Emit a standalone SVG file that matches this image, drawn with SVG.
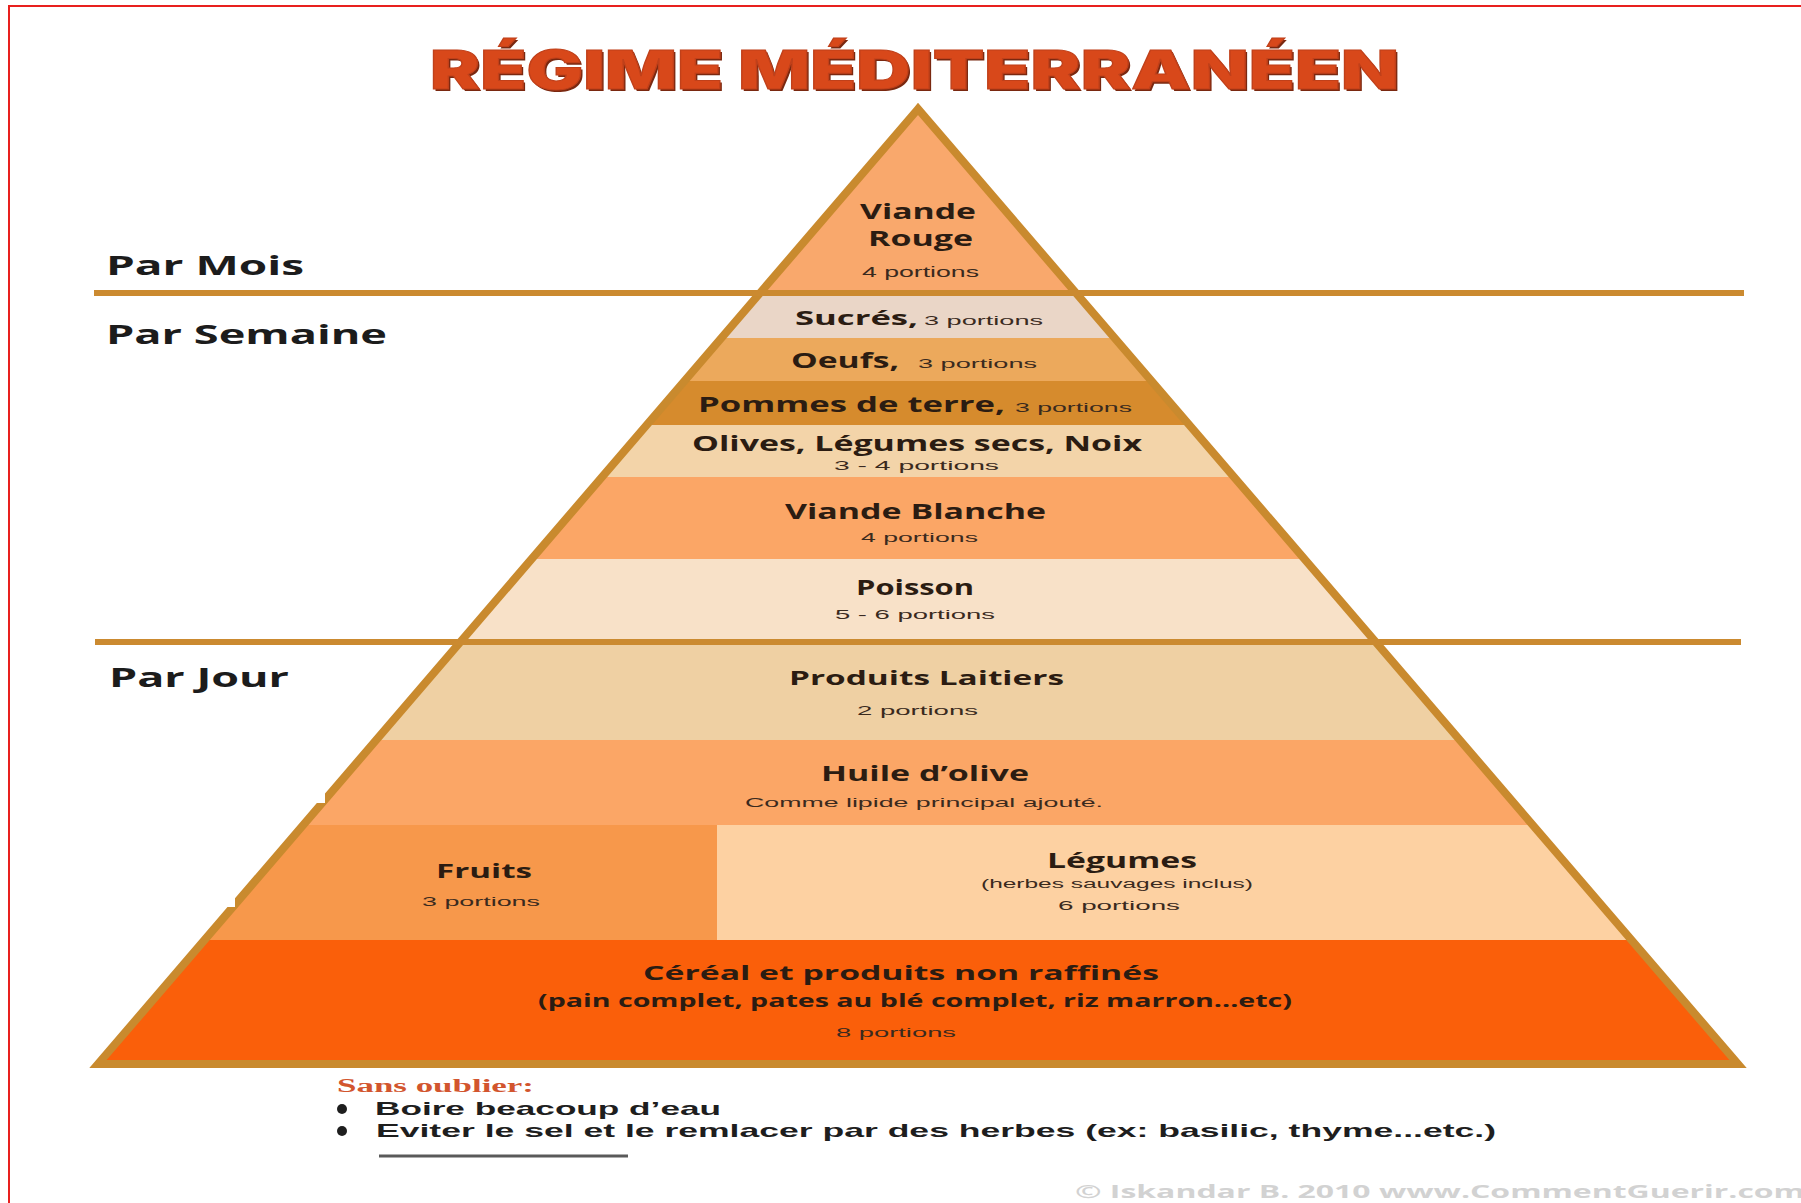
<svg xmlns="http://www.w3.org/2000/svg" width="1801" height="1203" viewBox="0 0 1801 1203">
<defs>
<clipPath id="tri"><polygon points="918,109 98,1064 1738,1064"/></clipPath>
<style>
.lbl{font-family:'Open Sans','Liberation Sans',sans-serif;font-weight:700;fill:#2b1c12}
.por{font-family:'Liberation Sans',Arial,sans-serif;fill:#3a2a1e}
.side{font-family:'Open Sans','Liberation Sans',sans-serif;font-weight:700;fill:#1c1c1c;font-size:27px}
.sep{stroke:#cb8a30;stroke-width:6;fill:none}
.note{font-family:'Liberation Sans',Arial,sans-serif;font-weight:700;fill:#1e1e1e;font-size:19px}
</style>
</defs>
<rect width="1801" height="1203" fill="#ffffff"/>
<path d="M9,1203 V6 H1801" fill="none" stroke="#e8201e" stroke-width="2"/>

<g id="title">
<text x="432" y="91" font-family="Inter,'Open Sans','Liberation Sans',sans-serif" font-weight="900" font-size="53" fill="#7a2810" textLength="969" lengthAdjust="spacingAndGlyphs">RÉGIME MÉDITERRANÉEN</text>
<text x="430" y="89" font-family="Inter,'Open Sans','Liberation Sans',sans-serif" font-weight="900" font-size="53" fill="#d8481a" stroke="#c0401a" stroke-width="1" textLength="969" lengthAdjust="spacingAndGlyphs">RÉGIME MÉDITERRANÉEN</text>
</g>

<g id="bands" clip-path="url(#tri)">
<rect id="band-viande-rouge" x="0" y="100" width="1801" height="196" fill="#f9a86c"/>
<rect id="band-sucres" x="0" y="296" width="1801" height="42" fill="#ead6c7"/>
<rect id="band-oeufs" x="0" y="338" width="1801" height="43" fill="#eca95c"/>
<rect id="band-pommes" x="0" y="381" width="1801" height="44" fill="#d68b2d"/>
<rect id="band-olives" x="0" y="425" width="1801" height="52" fill="#f3d4a9"/>
<rect id="band-viande-blanche" x="0" y="477" width="1801" height="82" fill="#fba666"/>
<rect id="band-poisson" x="0" y="559" width="1801" height="83" fill="#f8e1c8"/>
<rect id="band-laitiers" x="0" y="642" width="1801" height="98" fill="#efd0a3"/>
<rect id="band-huile" x="0" y="740" width="1801" height="85" fill="#fba666"/>
<rect id="band-fruits" x="0" y="825" width="717" height="115" fill="#f7984b"/>
<rect id="band-legumes" x="717" y="825" width="1084" height="115" fill="#fdd1a2"/>
<rect id="band-cereal" x="0" y="940" width="1801" height="130" fill="#fa5f0a"/>
</g>

<g id="outline">
<polygon points="918,109 98,1064 1738,1064" fill="none" stroke="#c98a2e" stroke-width="8" stroke-linejoin="miter"/>
</g>

<g id="connectors">
<line class="sep" x1="94" y1="293" x2="1744" y2="293"/>
<line class="sep" x1="95" y1="642" x2="1741" y2="642" stroke-width="5"/>
</g>

<g id="artifacts">
<rect x="230" y="700" width="95" height="103" fill="#ffffff"/>
<rect x="150" y="803" width="85" height="104" fill="#ffffff"/>
</g>

<g id="side-labels">
<text class="side" x="106" y="275" textLength="198" lengthAdjust="spacingAndGlyphs">Par Mois</text>
<text class="side" x="106" y="344" textLength="281" lengthAdjust="spacingAndGlyphs">Par Semaine</text>
<text class="side" x="109" y="687" textLength="180" lengthAdjust="spacingAndGlyphs">Par Jour</text>
</g>

<g id="node-viande-rouge">
<text class="lbl" x="860" y="219" font-size="21" textLength="116" lengthAdjust="spacingAndGlyphs">Viande</text>
<text class="lbl" x="868" y="246" font-size="21" textLength="105" lengthAdjust="spacingAndGlyphs">Rouge</text>
<text class="por" x="862" y="277" font-size="14" textLength="117" lengthAdjust="spacingAndGlyphs">4 portions</text>
</g>
<g id="node-sucres">
<text class="lbl" x="795" y="325" font-size="20" textLength="123" lengthAdjust="spacingAndGlyphs">Sucrés,</text>
<text class="por" x="924" y="325" font-size="13" textLength="119" lengthAdjust="spacingAndGlyphs">3 portions</text>
</g>
<g id="node-oeufs">
<text class="lbl" x="791" y="368" font-size="21" textLength="108" lengthAdjust="spacingAndGlyphs">Oeufs,</text>
<text class="por" x="918" y="368" font-size="13" textLength="119" lengthAdjust="spacingAndGlyphs">3 portions</text>
</g>
<g id="node-pommes">
<text class="lbl" x="698" y="412" font-size="21" textLength="307" lengthAdjust="spacingAndGlyphs">Pommes de terre,</text>
<text class="por" x="1015" y="412" font-size="13" textLength="117" lengthAdjust="spacingAndGlyphs">3 portions</text>
</g>
<g id="node-olives">
<text class="lbl" x="692" y="451" font-size="22" textLength="450" lengthAdjust="spacingAndGlyphs">Olives, Légumes secs, Noix</text>
<text class="por" x="834" y="470" font-size="13" textLength="165" lengthAdjust="spacingAndGlyphs">3 - 4 portions</text>
</g>
<g id="node-viande-blanche">
<text class="lbl" x="785" y="519" font-size="22" textLength="261" lengthAdjust="spacingAndGlyphs">Viande Blanche</text>
<text class="por" x="861" y="542" font-size="13" textLength="117" lengthAdjust="spacingAndGlyphs">4 portions</text>
</g>
<g id="node-poisson">
<text class="lbl" x="856" y="595" font-size="21" textLength="118" lengthAdjust="spacingAndGlyphs">Poisson</text>
<text class="por" x="835" y="619" font-size="13" textLength="160" lengthAdjust="spacingAndGlyphs">5 - 6 portions</text>
</g>
<g id="node-laitiers">
<text class="lbl" x="789" y="685" font-size="20" textLength="275" lengthAdjust="spacingAndGlyphs">Produits Laitiers</text>
<text class="por" x="857" y="715" font-size="13" textLength="121" lengthAdjust="spacingAndGlyphs">2 portions</text>
</g>
<g id="node-huile">
<text class="lbl" x="821" y="781" font-size="22" textLength="208" lengthAdjust="spacingAndGlyphs">Huile d’olive</text>
<text class="por" x="745" y="807" font-size="13" textLength="358" lengthAdjust="spacingAndGlyphs">Comme lipide principal ajouté.</text>
</g>
<g id="node-fruits">
<text class="lbl" x="436" y="878" font-size="20" textLength="96" lengthAdjust="spacingAndGlyphs">Fruits</text>
<text class="por" x="422" y="906" font-size="13" textLength="118" lengthAdjust="spacingAndGlyphs">3 portions</text>
</g>
<g id="node-legumes">
<text class="lbl" x="1047" y="868" font-size="21" textLength="150" lengthAdjust="spacingAndGlyphs">Légumes</text>
<text class="por" x="981" y="888" font-size="12" textLength="272" lengthAdjust="spacingAndGlyphs">(herbes sauvages inclus)</text>
<text class="por" x="1058" y="910" font-size="13" textLength="122" lengthAdjust="spacingAndGlyphs">6 portions</text>
</g>
<g id="node-cereal">
<text class="lbl" x="643" y="980" font-size="20" textLength="516" lengthAdjust="spacingAndGlyphs">Céréal et produits non raffinés</text>
<text class="lbl" x="538" y="1007" font-size="17" textLength="754" lengthAdjust="spacingAndGlyphs">(pain complet, pates au blé complet, riz marron...etc)</text>
<text class="por" x="836" y="1037" font-size="13" textLength="120" lengthAdjust="spacingAndGlyphs">8 portions</text>
</g>

<g id="notes">
<text x="337" y="1092" font-family="'Liberation Serif','Times New Roman',serif" font-weight="700" font-size="18" fill="#d2552e" textLength="197" lengthAdjust="spacingAndGlyphs">Sans oublier:</text>
<circle cx="342" cy="1109" r="5" fill="#1e1e1e"/>
<circle cx="342" cy="1131" r="5" fill="#1e1e1e"/>
<text class="note" x="375" y="1115" textLength="346" lengthAdjust="spacingAndGlyphs">Boire beacoup d’eau</text>
<text class="note" x="376" y="1137" textLength="1120" lengthAdjust="spacingAndGlyphs">Eviter le sel et le remlacer par des herbes (ex: basilic, thyme...etc.)</text>
<line x1="379" y1="1156" x2="628" y2="1156" stroke="#5a5a5a" stroke-width="3"/>
<text x="1075" y="1198" font-family="'Open Sans','Liberation Sans',sans-serif" font-weight="700" font-size="17" fill="#d2d2d2" textLength="730" lengthAdjust="spacingAndGlyphs">© Iskandar B. 2010 www.CommentGuerir.com</text>
</g>
</svg>
